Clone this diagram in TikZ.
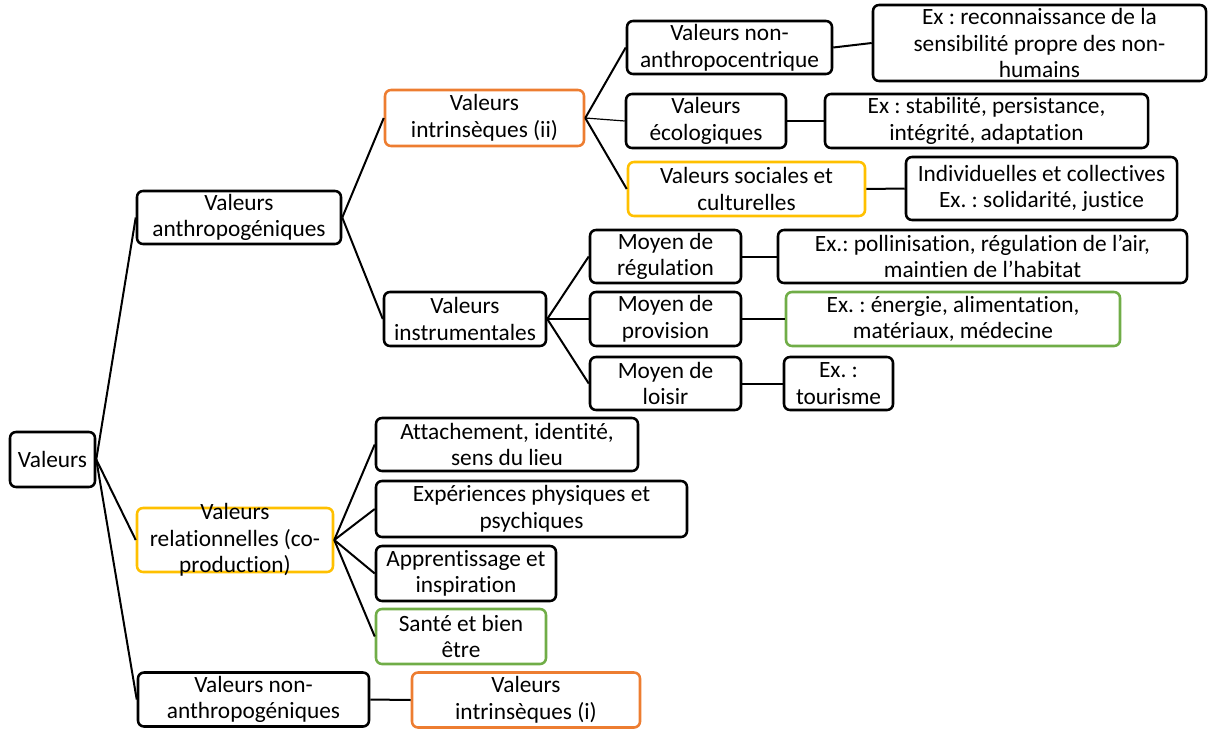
\documentclass[tikz,border=0pt]{standalone}
\usepackage{fontspec}
\setmainfont{Carlito}[Ligatures={NoCommon}]
\usepackage{tikz}
\frenchspacing
\definecolor{boxOrange}{RGB}{237, 125, 49}
\definecolor{boxYellow}{RGB}{255, 192, 0}
\definecolor{boxGreen}{RGB}{112, 173, 71}

\begin{document}
\begin{tikzpicture}[
  x=0.75pt, y=-0.75pt,
  every node/.style={font=\fontsize{17.5}{20}\selectfont},
  box/.style={draw=black, line width=1.9pt, rounded corners=4.5pt, align=center, inner sep=0pt},
  link/.style={draw=black, line width=1.5pt},
  thinlink/.style={draw=black, line width=0.9pt}
]
\useasboundingbox (0,0) rectangle (1220,728);
% first level
\node[box, minimum width=63.75pt, minimum height=41.25pt] (val) at (52.5,459.5) {Valeurs};
\node[box, minimum width=153pt, minimum height=39.75pt] (anthro) at (239,217.5) {Valeurs\\anthropogéniques};
\node[box, draw=boxYellow, minimum width=147pt, minimum height=48pt,
  label={[align=center]center:Valeurs\\relationnelles (co-\\production)}] (rel) at (235,540) {};
\node[box, minimum width=173.25pt, minimum height=40.5pt] (nonanthro) at (253.5,699.5) {Valeurs non-\\anthropogéniques};
% anthropogenic branch
\node[box, draw=boxOrange, minimum width=149.25pt, minimum height=42pt] (intrii) at (484.5,118) {Valeurs\\intrinsèques (ii)};
\node[box, minimum width=121.5pt, minimum height=40.5pt] (instr) at (465,319) {Valeurs\\instrumentales};
\node[box, minimum width=153.75pt, minimum height=39.75pt] (centr) at (729.5,47.5) {Valeurs non-\\anthropocentrique};
\node[box, minimum width=120pt, minimum height=40.5pt] (ecol) at (706,121) {Valeurs\\écologiques};
\node[box, draw=boxYellow, minimum width=177.75pt, minimum height=40.5pt] (socio) at (746.5,189) {Valeurs sociales et\\culturelles};
\node[box, minimum width=249.75pt, minimum height=57pt] (exsens) at (1039.5,43) {Ex : reconnaissance de la\\sensibilité propre des non-\\humains};
\node[box, minimum width=242.25pt, minimum height=40.5pt] (exstab) at (986.5,121) {Ex : stabilité, persistance,\\intégrité, adaptation};
\node[box, minimum width=203.25pt, minimum height=47.25pt] (exindiv) at (1041.5,188.5) {Individuelles et collectives\\Ex. : solidarité, justice};
% instrumental means
\node[box, minimum width=113.25pt, minimum height=39.75pt] (regul) at (665.5,256.5) {Moyen de\\régulation};
\node[box, minimum width=113.25pt, minimum height=40.5pt] (provi) at (665.5,319) {Moyen de\\provision};
\node[box, minimum width=113.25pt, minimum height=39.75pt] (loisir) at (665.5,383.5) {Moyen de\\loisir};
\node[box, minimum width=306.75pt, minimum height=39.75pt] (expolli) at (982.5,256.5) {Ex.: pollinisation, régulation de l’air,\\maintien de l’habitat};
\node[box, draw=boxGreen, minimum width=250.5pt, minimum height=40.5pt] (exener) at (953,319) {Ex. : énergie, alimentation,\\matériaux, médecine};
\node[box, minimum width=81.75pt, minimum height=39.75pt] (extour) at (838.5,383.5) {Ex. :\\tourisme};
% relational branch
\node[box, minimum width=196.5pt, minimum height=39.75pt] (attach) at (507,444.5) {Attachement, identité,\\sens du lieu};
\node[box, minimum width=233.25pt, minimum height=42pt] (exper) at (531.5,509) {Expériences physiques et\\psychiques};
\node[box, minimum width=135pt, minimum height=41.25pt] (appren) at (466,573.5) {Apprentissage et\\inspiration};
\node[box, draw=boxGreen, minimum width=127.5pt, minimum height=41.25pt] (sante) at (461,636.5) {Santé et bien\\être};
% non-anthropogenic branch
\node[box, draw=boxOrange, minimum width=171pt, minimum height=41.25pt] (intri) at (526,700) {Valeurs\\intrinsèques (i)};

% connectors
\foreach \c in {anthro, rel, nonanthro}
  \draw[link] (val.east) -- (\c.west);
\foreach \c in {intrii, instr}
  \draw[link] (anthro.east) -- (\c.west);
\draw[link] (intrii.east) -- (centr.west);
\draw[thinlink] (intrii.east) -- (ecol.west);
\draw[link] (intrii.east) -- (socio.west);
\foreach \c in {regul, provi, loisir}
  \draw[link] (instr.east) -- (\c.west);
\foreach \c in {attach, exper, appren, sante}
  \draw[link] (rel.east) -- (\c.west);
\draw[link] (nonanthro.east) -- (intri.west);
\draw[link] (centr.east) -- (exsens.west);
\draw[link] (ecol.east) -- (exstab.west);
\draw[link] (socio.east) -- (exindiv.west);
\draw[link] (regul.east) -- (expolli.west);
\draw[link] (provi.east) -- (exener.west);
\draw[link] (loisir.east) -- (extour.west);
\end{tikzpicture}
\end{document}
